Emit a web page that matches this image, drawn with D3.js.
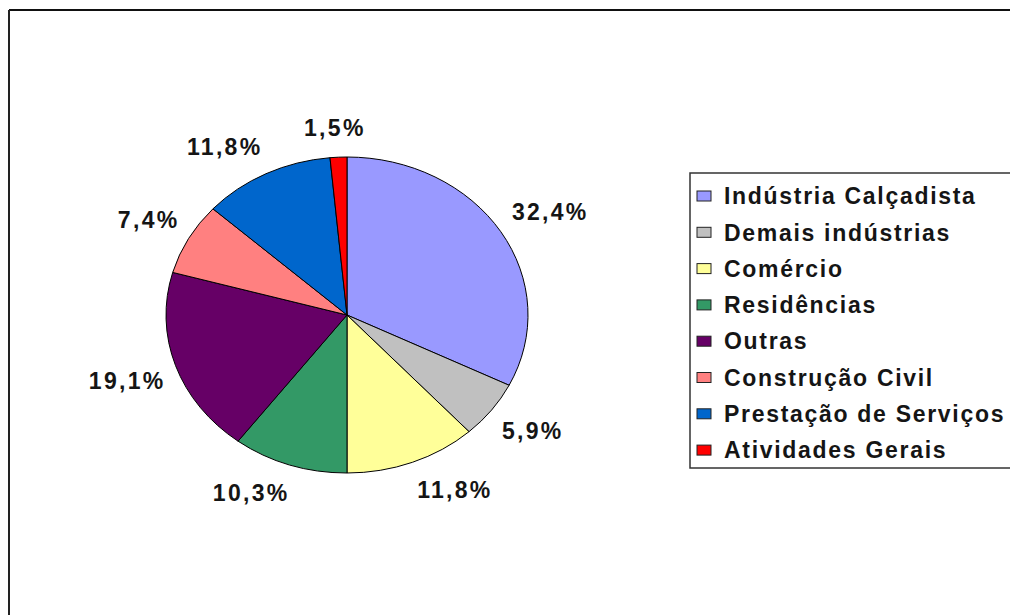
<!DOCTYPE html>
<html>
<head>
<meta charset="utf-8">
<script src="https://cdn.jsdelivr.net/npm/d3@7"></script>
<style>
html,body{margin:0;padding:0;background:#fff;}
svg{display:block;}
</style>
</head>
<body>
<svg id="chart" width="1010" height="615"></svg>
<script>
const categories = ["Indústria Calçadista","Demais indústrias","Comércio","Residências","Outras","Construção Civil","Prestação de Serviços","Atividades Gerais"];
const values = [32.4, 5.9, 11.8, 10.3, 19.1, 7.4, 11.8, 1.5];
const labels = ["32,4%","5,9%","11,8%","10,3%","19,1%","7,4%","11,8%","1,5%"];
const colors = ["#9999FF","#C0C0C0","#FFFF99","#339966","#660066","#FF8080","#0066CC","#FF0000"];

const svg = d3.select("#chart");
const W = 1010, H = 615;
const cx = 347, cy = 315, rx = 181, ry = 158;
const font = "'Liberation Sans', Arial, Helvetica, sans-serif";

// outer frame (top and left edges visible)
svg.append("line").attr("x1", 9).attr("y1", 10).attr("x2", W).attr("y2", 10)
  .attr("stroke", "#111").attr("stroke-width", 2);
svg.append("line").attr("x1", 9).attr("y1", 10).attr("x2", 9).attr("y2", H)
  .attr("stroke", "#222").attr("stroke-width", 2);

const pie = d3.pie().sort(null).value(d => d)(values);
const arc = d3.arc().innerRadius(0).outerRadius(ry);

const g = svg.append("g").attr("transform", `translate(${cx},${cy}) scale(${rx/ry},1)`);
g.selectAll("path").data(pie).join("path")
  .attr("d", arc)
  .attr("fill", (d, i) => colors[i])
  .attr("stroke", "#000")
  .attr("stroke-width", 1)
  .attr("vector-effect", "non-scaling-stroke");

// data labels
const lblLS = 2.3;
const lg = svg.append("g");
pie.forEach((d, i) => {
  const a = (d.startAngle + d.endAngle) / 2;
  const s = Math.sin(a), c = Math.cos(a);
  const px = cx + rx * s + 13 * s;
  const py = cy - ry * c - 20 * c;
  const t = lg.append("text")
    .attr("font-family", font).attr("font-weight", "bold")
    .attr("font-size", 23).attr("letter-spacing", lblLS)
    .attr("fill", "#151515")
    .text(labels[i]);
  const w = t.node().getComputedTextLength() - lblLS;
  const h = 18;
  const kx = Math.max(-1, Math.min(1, s * 3));
  const ky = Math.max(-1, Math.min(1, c * 3));
  const bx = px + kx * w / 2;
  const by = py - ky * h / 2;
  t.attr("x", bx - w / 2).attr("y", by).attr("dy", "0.36em");
});

// legend
const legX = 690, legY = 173, legH = 295, legW = 330;
const rowY0 = 196, rowStep = 36.3;
const leg = svg.append("g");
leg.append("rect").attr("x", legX).attr("y", legY).attr("width", legW).attr("height", legH)
  .attr("fill", "#fff").attr("stroke", "#333").attr("stroke-width", 1.5);
categories.forEach((name, i) => {
  const y = rowY0 + i * rowStep;
  leg.append("rect").attr("x", 697).attr("y", y - 5).attr("width", 14).attr("height", 10)
    .attr("fill", colors[i]).attr("stroke", "#222").attr("stroke-width", 1);
  leg.append("text").attr("x", 724).attr("y", y).attr("dy", "0.36em")
    .attr("font-family", font).attr("font-weight", "bold")
    .attr("font-size", 23).attr("letter-spacing", 1.7)
    .attr("fill", "#151515").text(name);
});
</script>
</body>
</html>
